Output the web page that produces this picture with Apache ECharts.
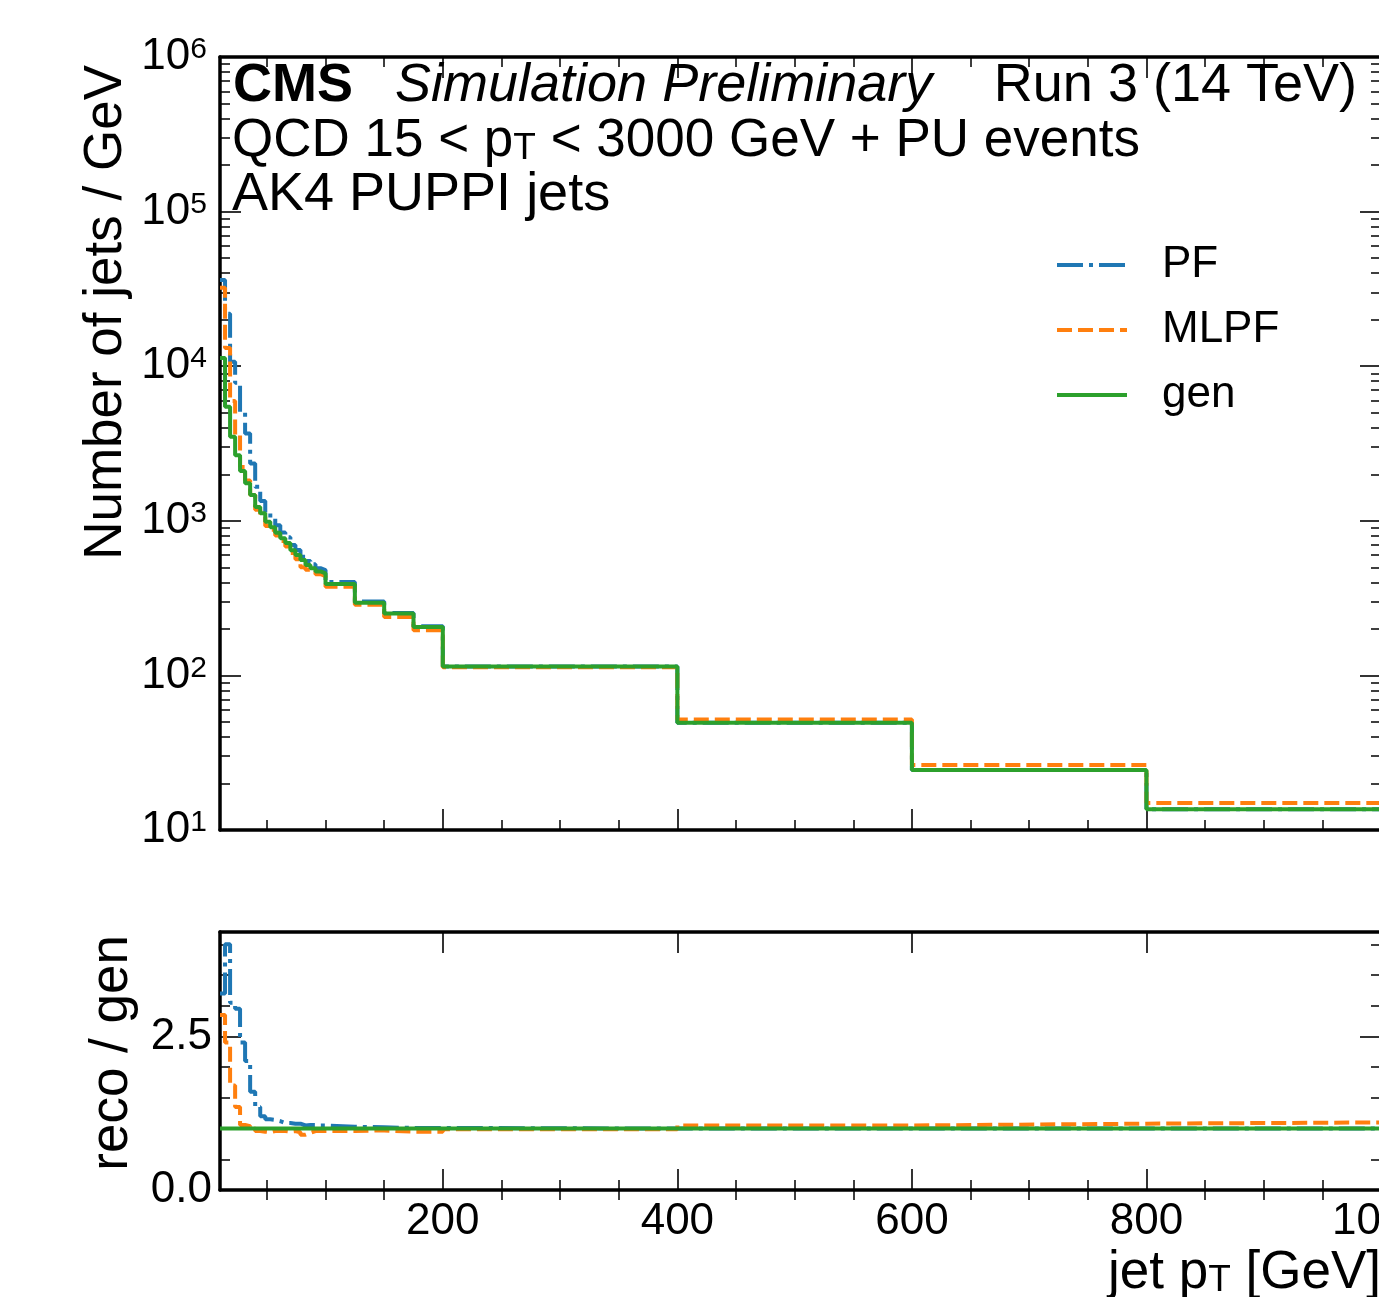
<!DOCTYPE html>
<html>
<head>
<meta charset="utf-8">
<script src="https://cdn.jsdelivr.net/npm/echarts@6/dist/echarts.min.js"></script>
<style>
  html, body { margin: 0; padding: 0; background: #fff; }
  #chart { width: 1379px; height: 1297px; }
</style>
</head>
<body>
<div id="chart"></div>
<script>
// jet pT bin edges [GeV]
var edges = [10, 14.3, 18.6, 22.9, 27.1, 31.4, 35.7, 40, 44.3, 48.6, 52.9, 57.1, 61.4, 65.7, 70,
  74.3, 78.6, 82.9, 87.1, 91.4, 95.7, 100, 125, 150, 175, 200, 400, 600, 800, 1000]

// gen jets per GeV, one value per bin
var genCounts = [11300, 5470, 3500, 2650, 2100, 1750, 1470, 1230, 1120, 985, 910, 837, 770, 718, 646,
  600, 557, 518, 493, 470, 457, 390, 295, 251, 206, 114, 49.4, 24.4, 13.6]

// reco / gen ratios
var pfRatio = [3.2, 4.0, 3.05, 2.95, 2.4, 2.1, 1.6, 1.35, 1.2, 1.15, 1.14, 1.12, 1.09, 1.09, 1.08,
  1.08, 1.05, 1.06, 1.06, 1.05, 1.05, 1.03, 1.02, 1.01, 1.01, 1.0, 1.0, 1.0, 1.0]
var mlpfRatio = [2.85, 2.4, 1.7, 1.35, 1.06, 1.04, 1.0, 0.96, 0.95, 0.94, 0.96, 0.96, 0.96, 0.95, 0.96,
  0.94, 0.9, 0.93, 0.96, 0.96, 0.96, 0.96, 0.97, 0.95, 0.95, 0.99, 1.05, 1.08, 1.1]

// tick positions
var xMajorTicks = [200, 400, 600, 800, 1000]
var xMinorTicks = [50, 100, 150, 250, 300, 350, 450, 500, 550, 650, 700, 750, 850, 900, 950]
var logDecades = [1, 2, 3, 4, 5]
var logMultipliers = [2, 3, 4, 5, 6, 7, 8, 9]
var ratioMajorTicks = [0, 2.5]
var ratioMinorTicks = [0.5, 1, 1.5, 2, 3, 3.5, 4]

var FONT = 'Liberation Sans'
var colors = { pf: '#1f77b4', mlpf: '#ff7f0e', gen: '#2ca02c' }
var LW = 4

// minor log ticks, in log10 units (drawn on a linear helper axis 1..6)
var logMinorTicks = []
logDecades.forEach(function (d) {
  logMultipliers.forEach(function (m) {
    logMinorTicks.push(d + Math.log10(m))
  })
})

function stepPoints(vals) {
  var pts = []
  for (var i = 0; i < vals.length; i++) {
    pts.push([edges[i], vals[i]])
    pts.push([edges[i + 1], vals[i]])
  }
  return pts
}

function times(a, b) {
  return a.map(function (v, i) { return v * b[i] })
}

var pfCounts = times(genCounts, pfRatio)
var mlpfCounts = times(genCounts, mlpfRatio)
var genRatio = genCounts.map(function (v) { return v / v })

function histSeries(name, vals, color, dash, xi, yi, z) {
  return {
    name: name,
    type: 'line',
    xAxisIndex: xi,
    yAxisIndex: yi,
    data: stepPoints(vals),
    symbol: 'none',
    showSymbol: false,
    z: z,
    silent: true,
    lineStyle: { color: color, width: LW, type: dash },
    itemStyle: { color: color }
  }
}

var dashDot = [26, 6, 4, 6]
var dashed = [15, 6]

function xAxes(grid, labels) {
  var list = []
  ;['bottom', 'top'].forEach(function (pos) {
    var main = pos === 'bottom'
    list.push({
      type: 'value', gridIndex: grid, position: pos, min: 10, max: 1000,
      axisLine: { show: true, onZero: false, lineStyle: { color: '#000', width: 3.5 } },
      axisTick: { show: true, inside: true, length: 21, customValues: xMajorTicks, lineStyle: { color: '#000', width: 1.6 } },
      axisLabel: {
        show: labels && main, customValues: xMajorTicks, margin: 10,
        fontSize: 44, fontFamily: FONT, color: '#000',
        formatter: function (v) { return String(v) }
      },
      splitLine: { show: false }
    })
    list.push({
      type: 'value', gridIndex: grid, position: pos, min: 10, max: 1000,
      axisLine: { show: false },
      axisTick: { show: true, inside: true, length: 10, customValues: xMinorTicks, lineStyle: { color: '#000', width: 1.5 } },
      axisLabel: { show: false },
      splitLine: { show: false }
    })
  })
  return list
}

var supRich = {
  sup: { fontSize: 30, fontFamily: FONT, color: '#000', verticalAlign: 'top', lineHeight: 18 }
}

function yAxes() {
  var list = []
  ;['left', 'right'].forEach(function (pos) {
    var left = pos === 'left'
    // upper panel, log scale
    list.push({
      type: 'log', logBase: 10, gridIndex: 0, position: pos, min: 10, max: 1000000,
      axisLine: { show: true, onZero: false, lineStyle: { color: '#000', width: 3.5 } },
      axisTick: { show: true, inside: true, length: 21, lineStyle: { color: '#000', width: 1.6 } },
      axisLabel: {
        show: left, margin: 13, fontSize: 44, fontFamily: FONT, color: '#000', lineHeight: 44,
        formatter: function (v) {
          return '10{sup|' + Math.round(Math.log10(v)) + '}'
        },
        rich: supRich
      },
      splitLine: { show: false }
    })
    list.push({
      type: 'value', gridIndex: 0, position: pos, min: 1, max: 6,
      axisLine: { show: false },
      axisTick: { show: true, inside: true, length: 10, customValues: logMinorTicks, lineStyle: { color: '#000', width: 1.5 } },
      axisLabel: { show: false },
      splitLine: { show: false }
    })
  })
  ;['left', 'right'].forEach(function (pos) {
    var left = pos === 'left'
    // ratio panel
    list.push({
      type: 'value', gridIndex: 1, position: pos, min: 0, max: 4.2,
      axisLine: { show: true, onZero: false, lineStyle: { color: '#000', width: 3.5 } },
      axisTick: { show: true, inside: true, length: 21, customValues: ratioMajorTicks, lineStyle: { color: '#000', width: 1.6 } },
      axisLabel: {
        show: left, customValues: ratioMajorTicks, margin: 8,
        fontSize: 44, fontFamily: FONT, color: '#000',
        formatter: function (v) { return v.toFixed(1) }
      },
      splitLine: { show: false }
    })
    list.push({
      type: 'value', gridIndex: 1, position: pos, min: 0, max: 4.2,
      axisLine: { show: false },
      axisTick: { show: true, inside: true, length: 10, customValues: ratioMinorTicks, lineStyle: { color: '#000', width: 1.5 } },
      axisLabel: { show: false },
      splitLine: { show: false }
    })
  })
  return list
}

function txt(x, y, text, extra) {
  var style = {
    text: text, fontSize: 54, fontFamily: FONT, fill: '#000',
    align: 'left', textAlign: 'left', verticalAlign: 'middle', textVerticalAlign: 'middle',
    rich: {
      sub: { fontSize: 37, fontFamily: FONT, fill: '#000', color: '#000', verticalAlign: 'bottom', lineHeight: 24 }
    }
  }
  for (var k in extra) style[k] = extra[k]
  return { type: 'text', x: x, y: y, silent: true, style: style }
}

var chart = echarts.init(document.getElementById('chart'))
chart.setOption({
  animation: false,
  backgroundColor: '#fff',
  grid: [
    { left: 220, top: 57, width: 1161, height: 773, outerBoundsMode: 'none', containLabel: false },
    { left: 220, top: 932, width: 1161, height: 258, outerBoundsMode: 'none', containLabel: false }
  ],
  legend: {
    data: ['PF', 'MLPF', 'gen'],
    orient: 'vertical',
    left: 1055,
    top: 243,
    padding: 0,
    itemWidth: 70,
    itemHeight: 20,
    itemGap: 21,
    selectedMode: false,
    itemStyle: { opacity: 0 },
    lineStyle: { width: LW },
    textStyle: { fontSize: 44, fontFamily: FONT, color: '#000', lineHeight: 44, padding: [0, 0, 0, 30] }
  },
  xAxis: xAxes(0, false).concat(xAxes(1, true)),
  yAxis: yAxes(),
  series: [
    histSeries('PF', pfCounts, colors.pf, dashDot, 0, 0, 2),
    histSeries('MLPF', mlpfCounts, colors.mlpf, dashed, 0, 0, 3),
    histSeries('gen', genCounts, colors.gen, 'solid', 0, 0, 4),
    histSeries('PF / gen', pfRatio, colors.pf, dashDot, 4, 4, 2),
    histSeries('MLPF / gen', mlpfRatio, colors.mlpf, dashed, 4, 4, 3),
    histSeries('gen / gen', genRatio, colors.gen, 'solid', 4, 4, 4)
  ],
  graphic: [
    txt(233, 86, 'CMS', { fontWeight: 'bold' }),
    txt(395, 86, 'Simulation Preliminary', { fontStyle: 'italic' }),
    txt(1357, 86, 'Run 3 (14 TeV)', { align: 'right', textAlign: 'right' }),
    txt(232, 141, 'QCD 15 < p{sub|T} < 3000 GeV + PU events', { fontSize: 53 }),
    txt(232, 195, 'AK4 PUPPI jets'),
    Object.assign(txt(106, 65, 'Number of jets / GeV', { align: 'right', textAlign: 'right', fontSize: 53 }), { rotation: Math.PI / 2 }),
    Object.assign(txt(112, 935, 'reco / gen', { align: 'right', textAlign: 'right', fontSize: 53 }), { rotation: Math.PI / 2 }),
    txt(1381, 1273, 'jet p{sub|T} [GeV]', { align: 'right', textAlign: 'right', fontSize: 53 })
  ]
})
</script>
</body>
</html>
